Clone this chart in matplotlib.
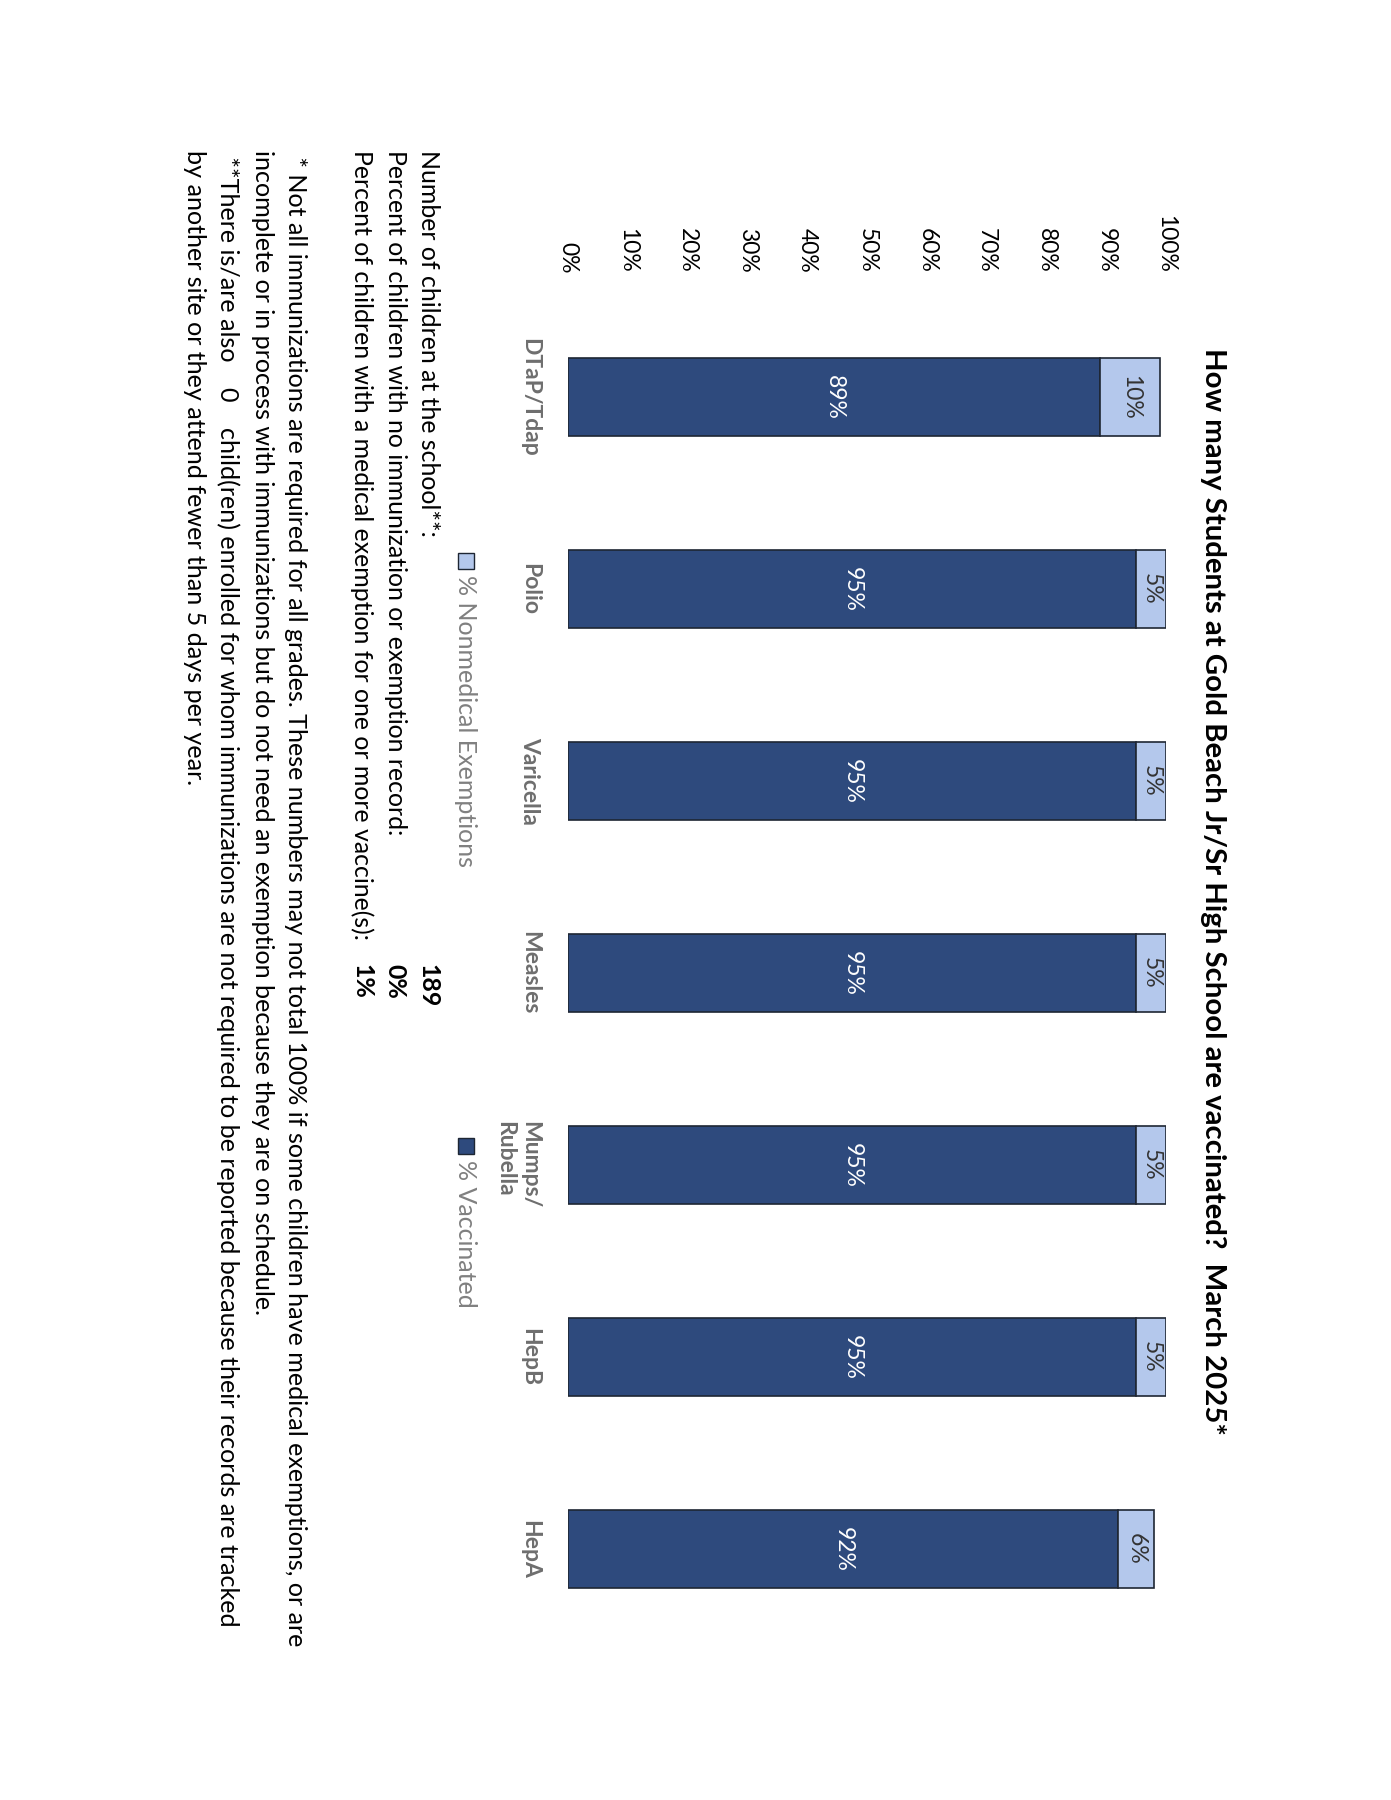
import matplotlib
matplotlib.use("Agg")
import matplotlib.pyplot as plt
from matplotlib.patches import Rectangle

plt.rcParams['font.family'] = ['Lato', 'DejaVu Sans']

# -----------------------------------
# DATA
# -----------------------------------
vaccines = ["DTaP/Tdap", "Polio", "Varicella", "Measles", "Mumps/\nRubella", "HepB", "HepA"]
pct_vaccinated = [89, 95, 95, 95, 95, 95, 92]
pct_nonmedical = [10, 5, 5, 5, 5, 5, 6]
tick_values = [0, 10, 20, 30, 40, 50, 60, 70, 80, 90, 100]

title = "How many Students at Gold Beach Jr/Sr High School are vaccinated?  March 2025*"
legend_labels = ["% Nonmedical Exemptions", "% Vaccinated"]

summary_lines = [
    "Number of children at the school**:",
    "Percent of children with no immunization or exemption record:",
    "Percent of children with a medical exemption for one or more vaccine(s):",
]
summary_values = ["189", "0%", "1%"]

footnotes = [
    " * Not all immunizations are required for all grades. These numbers may not total 100% if some children have medical exemptions, or are",
    "incomplete or in process with immunizations but do not need an exemption because they are on schedule.",
    " **There is/are also    0    child(ren) enrolled for whom immunizations are not required to be reported because their records are tracked",
    "by another site or they attend fewer than 5 days per year.",
]

DARK = "#2E4A7D"
LIGHT = "#B4C8EC"
EDGE = "#1E2633"

W, H = 1391, 1800

# -----------------------------------
# FIGURE (page is rotated 90 degrees)
# -----------------------------------
fig = plt.figure(figsize=(W / 100, H / 100), dpi=100)
fig.patch.set_facecolor("white")

def fx(px):
    return px / W

def fy(py):
    return 1 - py / H

ax = fig.add_axes([fx(568), fy(1645), fx(1166) - fx(568), fy(301) - fy(1645)])

ypos = list(range(len(vaccines)))

ax.barh(ypos, pct_vaccinated, height=0.41, color=DARK, edgecolor=EDGE, linewidth=1.2)
ax.barh(ypos, pct_nonmedical, left=pct_vaccinated, height=0.41,
        color=LIGHT, edgecolor=EDGE, linewidth=1.2)

for y, v, n in zip(ypos, pct_vaccinated, pct_nonmedical):
    ax.text(v / 2, y, f"{v}%", rotation=-90, ha="center", va="center",
            color="white", fontsize=16.5)
    ax.text(v + n / 2, y, f"{n}%", rotation=-90, ha="center", va="center",
            color="#333333", fontsize=16.5)

ax.set_xlim(0, 100)
ax.set_ylim(len(vaccines) - 0.5, -0.5)

ax.xaxis.tick_top()
ax.set_xticks(tick_values)
ax.set_xticklabels([f"{t}%" for t in tick_values], rotation=-90, fontsize=16.5)
ax.tick_params(axis="x", length=0, pad=20)

ax.set_yticks(ypos)
ax.set_yticklabels(vaccines, rotation=-90, fontsize=16.5, color="#6E6E6E",
                   fontweight="bold", linespacing=1.25)
for lbl in ax.get_yticklabels():
    lbl.set_va("center")
    lbl.set_multialignment("left")
ax.tick_params(axis="y", length=0, pad=20)

for s in ax.spines.values():
    s.set_visible(False)

# -----------------------------------
# TITLE
# -----------------------------------
fig.text(fx(1213), fy(348), title, rotation=-90, ha="center", va="top",
         fontsize=21.2, fontweight="bold", color="black")

# -----------------------------------
# LEGEND (drawn by hand, rotated)
# -----------------------------------
legend_y = [553, 1138]
legend_colors = [LIGHT, DARK]
for ly, lc, lt in zip(legend_y, legend_colors, legend_labels):
    fig.patches.append(Rectangle((fx(458), fy(ly + 16)), fx(16), 16 / H,
                                 transform=fig.transFigure, facecolor=lc,
                                 edgecolor=EDGE, linewidth=1.0))
    fig.text(fx(466), fy(ly + 22), lt, rotation=-90, ha="center", va="top",
             fontsize=18, color="#808080")

# -----------------------------------
# SUMMARY + FOOTNOTES
# -----------------------------------
summary_x = [428, 395, 362]
for sx, line, val in zip(summary_x, summary_lines, summary_values):
    fig.text(fx(sx), fy(150), line, rotation=-90, ha="center", va="top",
             fontsize=17.9, color="black")
    fig.text(fx(sx), fy(964), val, rotation=-90, ha="center", va="top",
             fontsize=17.9, color="black", fontweight="bold")

foot_x = [295, 262, 228, 194]
for fxp, line in zip(foot_x, footnotes):
    fig.text(fx(fxp), fy(150), line, rotation=-90, ha="center", va="top",
             fontsize=18.1, color="black")

fig.savefig("out.png", dpi=100, facecolor="white")
